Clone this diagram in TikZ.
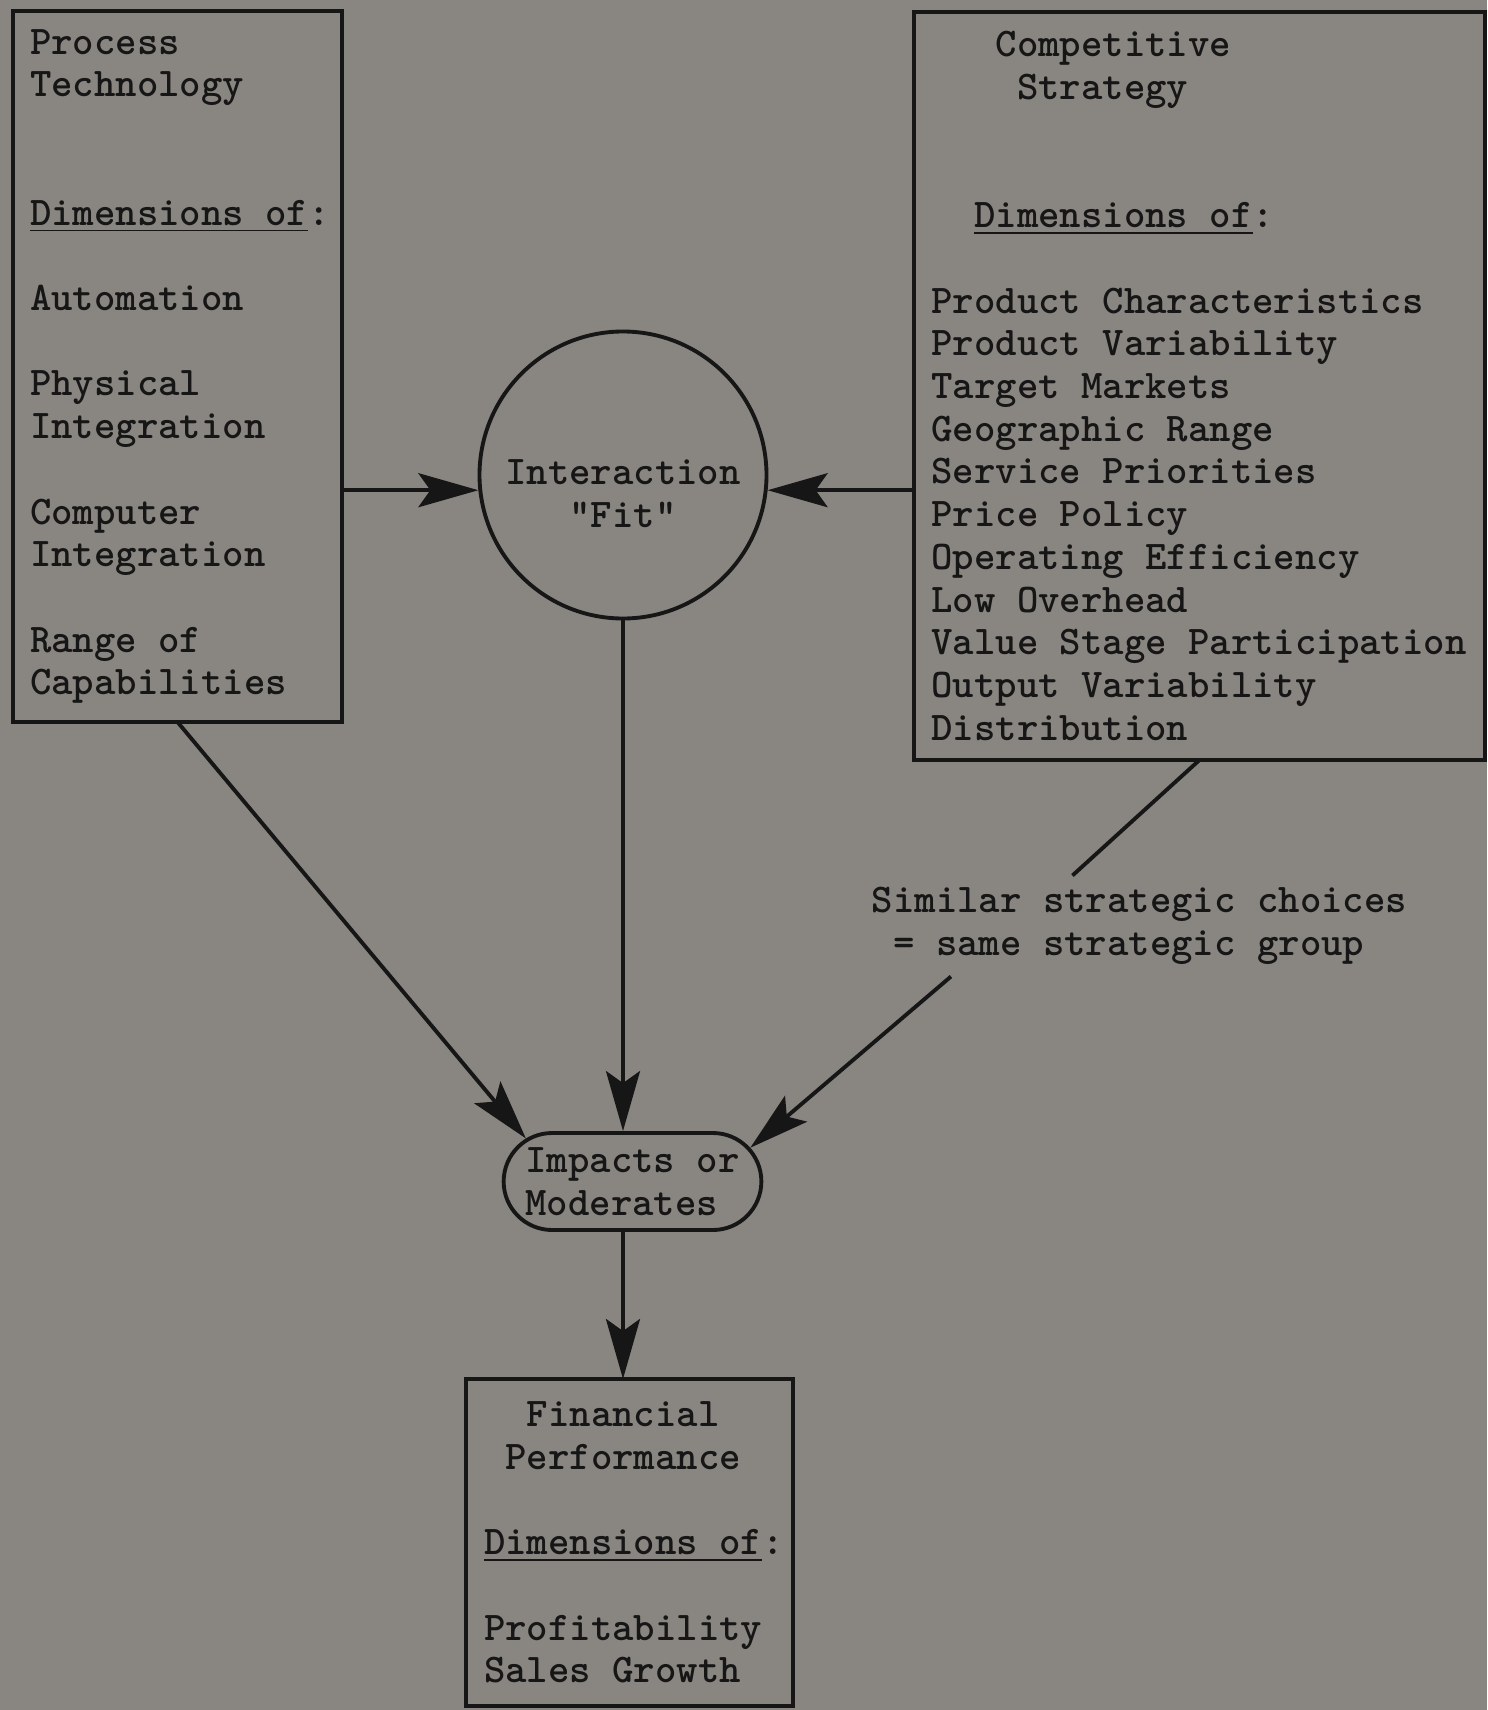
\documentclass[tikz,border=0pt]{standalone}
\usepackage{fontspec}
\usepackage{tikz}
\usetikzlibrary{arrows.meta}
\usetikzlibrary{shapes.misc}
\usetikzlibrary{calc}
\definecolor{paper}{RGB}{137,134,129}
\definecolor{ink}{RGB}{22,22,22}
\newcommand{\pad}[1]{\hspace*{#1\fontcharwd\font`\x}}

\begin{document}
\begin{tikzpicture}[x = .1mm, y = -.1mm, line width = 1.1pt, color = ink,
	txt/.style = {font = \ttfamily\bfseries\fontsize{11.6}{12.15}\selectfont},
	box/.style = {txt, draw, rectangle, align = flush left, inner ysep = 0pt, outer sep = 0pt},
	tip/.style = {-{Stealth[length = 6mm, width = 3.4mm, inset = 1.2mm]}}]
	\fill[paper] (0,0) rectangle (1487,1710);
	\useasboundingbox (0,0) rectangle (1487,1710);

	\node[box, minimum width = 32.9mm, minimum height = 71.1mm, text width = 29.5mm, inner xsep = 1.7mm] (tech) at (177.5,366.5) {Process\\Technology\\[24.3pt]\underline{Dimensions of}:\\[12.15pt]Automation\\[12.15pt]Physical\\Integration\\[12.15pt]Computer\\Integration\\[12.15pt]Range of\\Capabilities};
	\node[box, minimum width = 57.1mm, minimum height = 74.8mm, text width = 53.6mm, inner xsep = 1.75mm] (strat) at (1199.5,386) {\pad{3}Competitive\\\pad{4}Strategy\\[24.3pt]\pad{2}\underline{Dimensions of}:\\[12.15pt]Product Characteristics\\Product Variability\\Target Markets\\Geographic Range\\Service Priorities\\Price Policy\\Operating Efficiency\\Low Overhead\\\mbox{Value Stage Participation}\\Output Variability\\Distribution};
	\node[draw, circle, minimum size = 28.7mm, inner sep = 0pt] (fit) at (623,475) {};
	\node[txt, align = center] (fitlabel) at (623,494) {Interaction\\"Fit"};
	\node[txt, draw, rounded rectangle, minimum height = 9.7mm, inner xsep = .8mm, inner ysep = 0pt, align = left] (impact) at (632.5,1181.5) {Impacts or\\Moderates};
	\node[box, minimum width = 32.7mm, minimum height = 32.7mm, text width = 29.1mm, inner xsep = 1.8mm] (fin) at (629.5,1542.5) {\pad{2}Financial\\\pad{1}Performance\\[12.15pt]\underline{Dimensions of}:\\[12.15pt]Profitability\\Sales Growth};
	\node[txt, align = left, anchor = west, inner xsep = 0pt, inner ysep = 1mm] (choices) at (870,926) {Similar strategic choices\\\pad{1}= same strategic group};

	\draw[tip] (tech.east |- fit.186) -- (fit.186);
	\draw[tip] (strat.west |- fit.354) -- (fit.354);
	\draw[tip] (fit.south) -- (fit.south |- impact.north);
	\draw[tip] (tech.south) -- (impact.158);
	\draw (strat.south) -- (choices.143);
	\draw[tip] (choices.195) -- (impact.16);
	\draw[tip] (impact.south -| fit.south) -- (fin.north -| fit.south);
\end{tikzpicture}
\end{document}
